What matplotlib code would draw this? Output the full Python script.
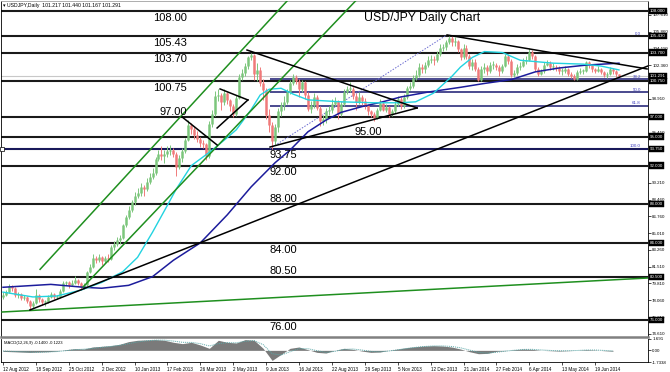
import numpy as np
import matplotlib
matplotlib.use("Agg")
import matplotlib.pyplot as plt

plt.rcParams['font.family'] = ['Liberation Sans', 'DejaVu Sans']

# ---- data (one candle ~ 3 trading days) ----
first_open = 78.4
closes = [
    78.6, 78.9, 79.5, 79.3, 78.6, 78.7, 78.3, 78.4, 78.0, 77.5,
    77.8, 78.6, 78.2, 77.9, 77.9, 78.4, 78.7, 78.4, 78.4, 79.0,
    79.8, 79.9, 79.6, 79.8, 80.2, 79.8, 79.4, 79.6, 81.0, 81.5,
    82.4, 82.2, 82.5, 82.1, 82.4, 82.3, 83.6, 83.9, 84.3, 84.5,
    85.8, 86.7, 87.4, 88.2, 88.9, 89.2, 89.8, 89.6, 90.3, 90.8,
    91.2, 92.7, 93.2, 93.0, 93.2, 93.5, 93.6, 93.2, 91.9, 92.8,
    93.5, 94.6, 96.2, 95.8, 95.2, 94.8, 94.3, 94.2, 93.0, 96.3,
    97.3, 99.2, 99.3, 98.6, 99.5, 98.8, 98.2, 97.3, 99.0, 101.2,
    101.6, 102.3, 103.2, 103.4, 101.5, 101.9, 100.5, 99.8, 97.2, 96.2,
    94.5, 96.0, 97.6, 98.3, 98.6, 99.6, 100.5, 101.2, 100.8, 99.9,
    100.6, 99.3, 97.9, 98.3, 99.1, 98.0, 96.6, 96.8, 97.6, 97.7,
    98.4, 98.7, 97.3, 98.4, 99.6, 99.9, 99.9, 99.2, 98.6, 99.1,
    98.7, 98.3, 97.6, 97.3, 96.9, 97.8, 98.5, 97.8, 98.1, 97.3,
    97.6, 98.4, 98.9, 98.2, 99.1, 100.0, 100.2, 101.1, 101.4, 102.2,
    102.0, 102.4, 102.9, 103.0, 102.9, 103.5, 104.2, 104.3, 104.8, 105.2,
    104.8, 104.9, 104.1, 103.2, 104.2, 103.3, 102.3, 102.7, 102.0, 100.9,
    102.0, 102.2, 101.8, 102.4, 102.4, 102.2, 101.8, 102.3, 103.3, 102.8,
    101.4, 101.6, 102.2, 102.3, 102.8, 102.9, 103.8, 103.3, 102.0, 101.5,
    101.8, 102.4, 102.6, 102.2, 102.2, 102.1, 101.8, 101.8, 102.0, 101.5,
    101.3, 101.0, 101.7, 101.8, 101.8, 102.7, 102.4, 102.0, 101.8, 102.0,
    101.7, 101.4, 101.5, 102.0, 101.8, 101.5, 101.29,
]
highs = [
    78.9, 79.1, 79.7, 79.6, 79.4, 78.9, 78.8, 78.6, 78.5, 78.1,
    78.0, 79.2, 78.7, 78.3, 78.1, 78.6, 78.9, 78.8, 78.6, 79.2,
    80.0, 80.1, 80.0, 80.2, 80.6, 80.3, 79.9, 79.8, 81.1, 81.8,
    82.8, 82.6, 82.8, 82.6, 82.6, 82.8, 83.8, 84.2, 84.6, 84.8,
    86.0, 86.9, 87.8, 88.4, 89.3, 89.7, 90.2, 90.0, 90.7, 91.2,
    91.7, 92.9, 93.6, 94.0, 93.6, 94.0, 94.1, 93.8, 93.4, 93.1,
    93.8, 94.9, 96.7, 96.4, 96.0, 95.6, 95.0, 94.6, 94.3, 96.6,
    97.8, 99.7, 99.9, 99.5, 99.9, 99.6, 98.9, 98.4, 99.3, 101.5,
    102.0, 102.6, 103.3, 103.7, 103.6, 102.6, 102.2, 101.0, 100.0, 97.9,
    96.5, 96.3, 98.0, 98.6, 99.2, 99.9, 100.9, 101.5, 101.4, 101.0,
    100.9, 100.8, 99.6, 98.7, 99.5, 99.3, 98.2, 97.2, 98.0, 98.2,
    98.9, 99.1, 98.8, 98.7, 99.9, 100.2, 100.6, 100.1, 99.5, 99.6,
    99.3, 99.0, 98.4, 97.8, 97.5, 98.0, 98.9, 98.7, 98.4, 98.2,
    97.9, 98.7, 99.2, 99.1, 99.4, 100.2, 100.6, 101.4, 101.9, 102.6,
    102.5, 102.7, 103.3, 103.4, 103.3, 103.9, 104.6, 104.6, 105.0, 105.44,
    105.4, 105.3, 105.0, 104.2, 104.6, 104.5, 103.5, 103.0, 103.0, 102.2,
    102.3, 102.6, 102.4, 102.7, 102.8, 102.6, 102.4, 102.5, 103.6, 103.5,
    103.0, 101.9, 102.5, 102.7, 103.1, 103.3, 104.13, 104.0, 103.4, 102.2,
    102.0, 102.7, 102.9, 102.8, 102.6, 102.4, 102.3, 102.1, 102.3, 102.1,
    101.7, 101.5, 101.9, 102.1, 102.0, 102.8, 102.8, 102.5, 102.1, 102.3,
    102.1, 101.8, 101.7, 102.2, 102.1, 101.9, 101.44,
]
lows = [
    78.2, 78.5, 78.8, 79.0, 78.4, 78.3, 78.1, 78.1, 77.8, 77.1,
    77.3, 77.7, 77.9, 77.6, 77.5, 77.8, 78.3, 78.2, 78.2, 78.3,
    78.9, 79.6, 79.3, 79.5, 79.7, 79.6, 79.1, 79.2, 79.5, 80.9,
    81.4, 81.9, 82.0, 81.7, 81.9, 82.0, 82.2, 83.3, 83.7, 83.9,
    84.4, 85.6, 86.5, 87.2, 87.9, 88.6, 88.8, 88.8, 89.4, 90.1,
    90.6, 91.0, 92.5, 92.6, 92.3, 92.9, 93.1, 92.9, 90.9, 91.6,
    92.4, 93.3, 94.5, 95.3, 94.8, 94.4, 93.9, 93.8, 92.6, 92.8,
    96.0, 97.1, 98.7, 97.8, 98.3, 98.4, 97.6, 97.0, 97.1, 98.9,
    100.9, 101.3, 102.0, 102.9, 100.9, 100.8, 100.2, 98.8, 96.8, 95.5,
    93.75, 94.1, 95.5, 97.1, 97.8, 98.4, 99.4, 100.3, 100.4, 99.1,
    99.6, 98.9, 97.6, 97.4, 98.0, 97.7, 96.1, 96.2, 96.4, 97.2,
    97.4, 98.2, 96.8, 97.1, 98.2, 99.4, 99.6, 98.9, 97.8, 98.4,
    98.3, 97.9, 97.2, 97.0, 96.6, 96.8, 97.6, 97.6, 97.5, 97.0,
    97.1, 97.4, 98.2, 97.9, 98.0, 98.9, 99.8, 100.0, 100.9, 101.2,
    101.6, 101.6, 102.2, 102.6, 102.4, 102.7, 103.3, 103.9, 104.0, 104.6,
    104.4, 104.4, 103.8, 102.9, 103.0, 103.0, 102.0, 101.9, 101.8, 100.76,
    100.8, 101.6, 101.4, 101.6, 102.0, 101.9, 101.3, 101.6, 102.2, 102.5,
    101.2, 101.2, 101.4, 101.9, 102.2, 102.5, 102.8, 103.0, 101.8, 101.3,
    101.4, 101.6, 102.3, 101.9, 101.9, 101.8, 101.5, 101.4, 101.6, 101.3,
    101.1, 100.82, 100.9, 101.5, 101.5, 101.7, 102.1, 101.7, 101.6, 101.7,
    101.5, 101.2, 101.1, 101.4, 101.5, 101.2, 101.17,
]

# moving averages, read at a few candles
ma_fast_idx = [0, 10, 18, 26, 33, 40, 45, 50, 55, 58, 63, 70, 75, 78, 83, 86, 89, 93, 97,
               102, 113, 124, 133, 138, 144, 150, 153, 157, 161, 167, 173, 184, 194, 200, 206]
ma_fast = [78.9, 78.4, 78.5, 79.1, 79.9, 81.0, 82.5, 85.1, 87.9, 89.6, 92.0, 93.6, 94.9, 95.7,
           97.8, 99.3, 99.9, 100.0, 99.4, 98.8, 98.6, 98.5, 98.5, 98.6, 99.5, 101.2, 102.2,
           103.2, 103.8, 103.7, 102.9, 102.6, 102.5, 102.3, 101.9]
ma_slow_idx = [0, 16, 27, 33, 42, 50, 57, 66, 75, 83, 91, 96, 102, 108, 113, 120, 127, 133,
               142, 153, 161, 170, 178, 186, 195, 206]
ma_slow = [79.4, 79.7, 79.4, 79.3, 79.6, 80.5, 82.2, 84.0, 86.9, 89.8, 92.3, 93.6, 95.5, 96.7,
           97.5, 98.1, 98.6, 99.1, 99.6, 100.1, 100.5, 100.9, 101.7, 102.1, 102.4, 102.6]

# MACD(12,26,9), every third candle
macd_hist = [
    -0.15, -0.2, -0.25, -0.3, -0.25, -0.2, -0.1, 0.1, 0.25, 0.2,
    0.5, 0.6, 0.7, 0.9, 1.3, 1.5, 1.55, 1.6, 1.5, 1.2,
    1.0, 1.2, 0.8, 0.3, 1.5, 1.2, 1.1, 1.6, 1.5, 0.3,
    -1.5, -0.6, 0.3, 0.5, 0.1, -0.3, -0.4, 0.0, 0.3, 0.15,
    -0.1, -0.3, -0.25, 0.0, 0.2, 0.4, 0.55, 0.65, 0.7, 0.65,
    0.5, 0.2, -0.2, -0.5, -0.45, -0.15, -0.05, 0.1, 0.2, 0.15,
    0.0, -0.05, -0.1, -0.05, 0.0, 0.1, 0.05, -0.05, -0.12,
]
macd_signal = [
    -0.1, -0.15, -0.2, -0.25, -0.27, -0.24, -0.18, -0.05, 0.1, 0.17,
    0.3, 0.45, 0.58, 0.75, 1.0, 1.25, 1.42, 1.52, 1.52, 1.38,
    1.2, 1.18, 1.0, 0.65, 1.0, 1.15, 1.12, 1.35, 1.45, 0.85,
    -0.5, -0.7, -0.2, 0.25, 0.25, -0.05, -0.3, -0.15, 0.15, 0.2,
    0.05, -0.15, -0.22, -0.1, 0.08, 0.28, 0.45, 0.58, 0.66, 0.66,
    0.58, 0.38, 0.05, -0.3, -0.42, -0.28, -0.12, 0.02, 0.14, 0.15,
    0.06, -0.01, -0.07, -0.06, -0.02, 0.05, 0.05, -0.01, -0.1,
]

levels = [108.00, 105.43, 103.70, 100.75, 97.00, 95.00, 93.75, 92.00, 88.00, 84.00, 80.50, 76.00]
level_text = ['108.00', '105.43', '103.70', '100.75', '97.00', '95.00', '93.75', '92.00',
              '88.00', '84.00', '80.50', '76.00']

date_labels = ['12 Aug 2012', '18 Sep 2012', '25 Oct 2012', '2 Dec 2012', '10 Jan 2013',
               '17 Feb 2013', '26 Mar 2013', '2 May 2013', '9 Jun 2013', '16 Jul 2013',
               '22 Aug 2013', '29 Sep 2013', '5 Nov 2013', '12 Dec 2013', '21 Jan 2014',
               '27 Feb 2014', '6 Apr 2014', '13 May 2014', '19 Jun 2014']
price_ticks = [74.61, 76.31, 78.06, 79.81, 81.51, 83.26, 85.01, 86.76, 88.46, 90.21,
               95.41, 98.91, 102.36, 104.11, 105.86, 107.61]
boxed_prices = [108.000, 105.430, 103.700, 101.291, 100.750, 97.000, 95.000, 93.750,
                92.000, 88.000, 84.000, 80.500, 76.000]
last_price = 101.291

fib_low = (89.3, 93.75)      # (candle, price)
fib_high = (148.0, 105.44)
fib_ratios = [0.0, 0.382, 0.5, 0.618, 1.0]

# trend lines: candle0, price0, candle1, price1
black_lines = [
    (9.0, 77.05, 215.7, 102.31),
    (81.6, 103.96, 138.5, 97.96),
    (89.3, 93.92, 138.5, 97.96),
    (148.5, 105.52, 215.4, 102.0),
    (59.9, 97.03, 71.6, 94.13),
    (72.6, 99.93, 81.9, 98.79),
    (71.6, 95.89, 81.9, 98.79),
]
green_lines = [
    (-0.33, 76.84, 215.7, 80.36),
    (12.4, 81.26, 95.3, 109.14),
    (26.8, 79.43, 118.2, 109.14),
]

W, H = 670, 372
fig = plt.figure(figsize=(W / 100, H / 100), dpi=100)
fig.patch.set_facecolor('white')
ax = fig.add_axes([1 / W, (H - 337) / H, 647 / W, 336 / H])
mx = fig.add_axes([1 / W, (H - 362) / H, 647 / W, 23 / H], sharex=ax)

xmin, xmax = -0.67, 215.7
ax.set_xlim(xmin, xmax)
ax.set_ylim(74.253, 109.035)

# horizontal support / resistance
for lv in levels:
    ax.axhline(lv, color='#1a1a1a', lw=1.5, zorder=2)
ax.axhline(last_price, color='#c8c8c8', lw=0.8, zorder=1)

# fibonacci
lo_x, lo_p = fib_low
hi_x, hi_p = fib_high
for r in fib_ratios:
    lv = hi_p - r * (hi_p - lo_p)
    if r == 1.0:
        ax.axhline(lv, color='#191970', lw=1.1, zorder=3)
    elif r > 0:
        ax.hlines(lv, lo_x, xmax, color='#191970', lw=1.1, zorder=3)
    ax.text(213.3, lv + 0.12, f'{r * 100:.1f}', color='#4040c0', fontsize=3.2,
            ha='right', va='baseline', zorder=6)
ax.plot([lo_x, hi_x], [lo_p, hi_p], color='#6a6ad0', lw=0.7, ls=(0, (1.5, 1.5)), zorder=3)

# moving averages
ax.plot(ma_slow_idx, ma_slow, color='#1c1c9c', lw=1.1, zorder=4)
ax.plot(ma_fast_idx, ma_fast, color='#22d3e0', lw=1.0, zorder=4)

# candles
idx = np.arange(len(closes))
c = np.array(closes)
o = np.array([first_open] + closes[:-1])
up = c >= o
cols = np.where(up, '#7cc67c', '#f07a7a')
ax.vlines(idx, lows, highs, colors=cols, lw=0.7, zorder=3)
bot = np.minimum(o, c)
top = np.maximum(np.maximum(o, c), bot + 0.08)
ax.vlines(idx, bot, top, colors=cols, lw=1.8, zorder=3)

# trend lines
for x0, p0, x1, p1 in green_lines:
    ax.plot([x0, x1], [p0, p1], color='#1f8f1f', lw=1.1, zorder=5)
for x0, p0, x1, p1 in black_lines:
    ax.plot([x0, x1], [p0, p1], color='black', lw=1.1, zorder=5)

ax.plot(-0.3, 93.75, 's', ms=2.2, mfc='white', mec='black', mew=0.5, clip_on=False, zorder=7)

# level captions
for lv, txt in zip(levels, level_text):
    if lv >= 100:
        ax.text(61.5, lv - 0.18, txt, fontsize=8, ha='right', va='top', zorder=6)
    elif lv == 97.00:
        ax.text(61.5, lv + 0.2, txt, fontsize=8, ha='right', va='baseline', zorder=6)
    elif lv == 95.00:
        ax.text(126.8, lv + 0.12, txt, fontsize=8, ha='right', va='baseline', zorder=6)
    elif lv in (88.00, 80.50):
        ax.text(98.3, lv + 0.25, txt, fontsize=8, ha='right', va='baseline', zorder=6)
    else:
        ax.text(98.3, lv - 0.18, txt, fontsize=8, ha='right', va='top', zorder=6)

# price scale
ax.yaxis.tick_right()
ax.set_yticks(price_ticks)
ax.set_yticklabels([f'{t:.3f}' for t in price_ticks])
ax.tick_params(axis='y', labelsize=3.2, length=2, width=0.5, pad=1)
ax.tick_params(axis='x', length=0, labelbottom=False)
for p in boxed_prices:
    ax.text(1.003, p, f'{p:.3f}', transform=ax.get_yaxis_transform(), fontsize=3.2,
            color='white', ha='left', va='center', clip_on=False, zorder=8,
            bbox=dict(boxstyle='square,pad=0.25', fc='black', ec='black', lw=0.3))
for s in ax.spines.values():
    s.set_linewidth(0.6)
ax.spines['bottom'].set_color('#808080')
ax.spines['bottom'].set_linewidth(1.8)
ax.spines['top'].set_color('#a0a0a0')

# MACD panel
midx = np.arange(0, len(closes), 3)[:len(macd_hist)]
mx.fill_between(midx, 0, macd_hist, color='#7a7a7a', lw=0)
mx.plot(midx, macd_signal, color='#5aa8a8', lw=0.7, ls=(0, (1, 1)))
mx.set_ylim(-1.7338, 1.691)
mx.yaxis.tick_right()
mx.set_yticks([1.691, 0.0, -1.7338])
mx.set_yticklabels(['1.691', '0.00', '-1.7338'])
mx.tick_params(axis='y', labelsize=3.2, length=2, width=0.5, pad=1)
mx.text(0.004, 0.93, 'MACD(12,26,9) -0.1400 -0.1223', transform=mx.transAxes,
        fontsize=3, va='top', ha='left')
mx.set_xticks(np.arange(0, 11 * len(date_labels), 11))
mx.set_xticklabels(date_labels)
mx.tick_params(axis='x', labelsize=3.3, length=2, width=0.5, pad=1.5)
for lab in mx.get_xticklabels():
    lab.set_ha('left')
for s in mx.spines.values():
    s.set_linewidth(0.6)
mx.spines['top'].set_visible(False)

fig.text(3 / W, 1 - 5 / H, '\u25be USDJPY,Daily  101.217 101.440 101.167 101.291',
         fontsize=3.7, va='center', ha='left')
fig.text(422 / W, 1 - 18 / H, 'USD/JPY Daily Chart', fontsize=8.8, ha='center', va='center')

fig.savefig('out.png', dpi=100, facecolor='white')
